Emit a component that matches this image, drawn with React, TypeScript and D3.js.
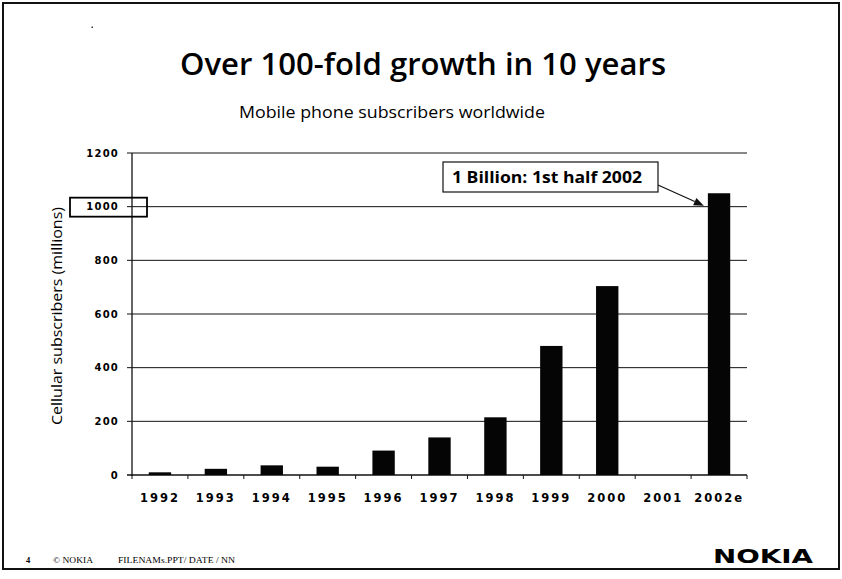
import React from "react";
import * as d3 from "d3";

const categories = ["1992", "1993", "1994", "1995", "1996", "1997", "1998", "1999", "2000", "2001", "2002e"];
const subscribers = [10, 23, 36, 31, 91, 140, 215, 481, 704, 0, 1050];
const yTicks = [0, 200, 400, 600, 800, 1000, 1200];
const titleText = "Over 100-fold growth in 10 years";
const subtitleText = "Mobile phone subscribers worldwide";
const yAxisTitle = "Cellular subscribers (millions)";
const annotationText = "1 Billion: 1st half 2002";
const highlightedTick = 1000;

const W = 842;
const H = 579;

export default function App() {
  const x = d3.scaleBand<string>().domain(categories).range([132, 747]).paddingInner(0.6).paddingOuter(0.3);
  const y = d3.scaleLinear().domain([0, 1200]).range([475, 153]);
  const step = x.step();
  const bw = x.bandwidth();
  const boundaries = categories.map((c) => (x(c) as number) + bw / 2 - step / 2).concat([747]);
  const lastCat = categories[categories.length - 1];
  const lastX = x(lastCat) as number;
  const arrowTipX = lastX - 4;
  const arrowTipY = y(highlightedTick) - 1;
  const arrowStartX = 658;
  const arrowStartY = 185;
  const ang = Math.atan2(arrowTipY - arrowStartY, arrowTipX - arrowStartX);
  const ah = 10;
  const aw = 4;
  const bx = arrowTipX - ah * Math.cos(ang);
  const by = arrowTipY - ah * Math.sin(ang);
  const head = `M${arrowTipX},${arrowTipY} L${bx + aw * Math.sin(ang)},${by - aw * Math.cos(ang)} L${bx - aw * Math.sin(ang)},${by + aw * Math.cos(ang)} Z`;

  return (
    <div style={{ position: "absolute", left: 0, top: 0 }}>
      <svg width={W} height={H} viewBox={`0 0 ${W} ${H}`} style={{ display: "block", background: "#fff" }}>
        <rect x={0} y={0} width={W} height={H} fill="#fff" />
        {/* frame */}
        <rect x={3} y={3} width={836} height={566} fill="none" stroke="#111" strokeWidth={2} />
        <rect x={91.5} y={26.5} width={1.5} height={1.5} fill="#333" />

        {/* title */}
        <text x={423} y={75} textAnchor="middle" fontFamily="'Open Sans', sans-serif" fontWeight={600} fontSize={30}
          textLength={486} lengthAdjust="spacingAndGlyphs" fill="#000">{titleText}</text>
        <text x={392} y={118} textAnchor="middle" fontFamily="'Open Sans', sans-serif" fontSize={17}
          textLength={306} lengthAdjust="spacingAndGlyphs" fill="#000">{subtitleText}</text>

        {/* gridlines */}
        {yTicks.map((t) => (
          <line key={"g" + t} x1={127} x2={747} y1={y(t)} y2={y(t)} stroke="#111" strokeWidth={t === 0 ? 1.3 : 1} />
        ))}
        {/* y axis */}
        <line x1={132} x2={132} y1={y(1200)} y2={y(0) + 1} stroke="#111" strokeWidth={1.3} />
        {yTicks.map((t) => (
          <text key={"yl" + t} x={119} y={y(t)} dy="0.36em" textAnchor="end" fontFamily="'DejaVu Sans', sans-serif"
            fontWeight="bold" fontSize={10} letterSpacing={1.2} fill="#000">{t}</text>
        ))}
        {/* highlight box around 1000 */}
        <rect x={70} y={y(highlightedTick) - 9} width={77} height={19} fill="none" stroke="#000" strokeWidth={1.8} />

        {/* x ticks */}
        {boundaries.map((bx2, i) => (
          <line key={"xt" + i} x1={bx2} x2={bx2} y1={y(0)} y2={y(0) + 4} stroke="#111" strokeWidth={1} />
        ))}

        {/* bars */}
        {categories.map((c, i) =>
          subscribers[i] > 0 ? (
            <rect key={"b" + c} x={x(c) as number} y={y(subscribers[i])} width={bw} height={y(0) - y(subscribers[i])} fill="#050505" />
          ) : null
        )}

        {/* x labels */}
        {categories.map((c) => (
          <text key={"xl" + c} x={(x(c) as number) + bw / 2} y={502} textAnchor="middle" fontFamily="'DejaVu Sans', sans-serif"
            fontWeight="bold" fontSize={11.5} letterSpacing={2} fill="#000">{c}</text>
        ))}

        {/* y axis title */}
        <text transform="translate(62,316) rotate(-90)" textAnchor="middle" fontFamily="'Open Sans', sans-serif" fontSize={15}
          textLength={218} lengthAdjust="spacingAndGlyphs" fill="#000">{yAxisTitle}</text>

        {/* annotation */}
        <rect x={443} y={162} width={215} height={30} fill="#fff" stroke="#111" strokeWidth={1.2} />
        <text x={452} y={183} fontFamily="'Open Sans', sans-serif" fontWeight="bold" fontSize={16}
          textLength={190} lengthAdjust="spacingAndGlyphs" fill="#000">{annotationText}</text>
        <line x1={arrowStartX} y1={arrowStartY} x2={bx} y2={by} stroke="#111" strokeWidth={1.2} />
        <path d={head} fill="#111" />

        {/* footer */}
        <text x={26} y={563} fontFamily="'Liberation Serif', serif" fontSize={8.5} fontWeight="bold" fill="#000">4</text>
        <text x={53} y={563} fontFamily="'Liberation Serif', serif" fontSize={8.5} fill="#000" textLength={40}
          lengthAdjust="spacingAndGlyphs">© NOKIA</text>
        <text x={118} y={563} fontFamily="'Liberation Serif', serif" fontSize={8.5} fill="#000" textLength={117}
          lengthAdjust="spacingAndGlyphs">FILENAMs.PPT/ DATE / NN</text>
        <text x={713} y={563} fontFamily="'DejaVu Sans', sans-serif" fontWeight="bold" fontSize={20}
          textLength={100} lengthAdjust="spacingAndGlyphs" fill="#000">NOKIA</text>
      </svg>
    </div>
  );
}
